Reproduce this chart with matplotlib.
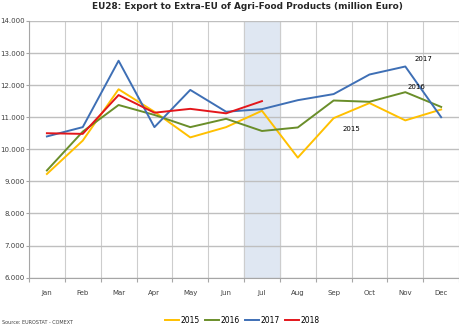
import matplotlib.pyplot as plt
import matplotlib.ticker as mticker
import numpy as np

months = ["Jan", "Feb", "Mar", "Apr", "May", "Jun", "Jul", "Aug", "Sep", "Oct", "Nov", "Dec"]
y2015 = [9.23, 10.27, 11.87, 11.17, 10.37, 10.69, 11.20, 9.74, 10.97, 11.44, 10.90, 11.24]
y2016 = [9.34, 10.55, 11.38, 11.07, 10.69, 10.95, 10.57, 10.68, 11.52, 11.48, 11.78, 11.32]
y2017 = [10.40, 10.69, 12.76, 10.69, 11.85, 11.17, 11.25, 11.53, 11.72, 12.33, 12.58, 11.00]
y2018 = [10.50, 10.48, 11.69, 11.14, 11.26, 11.12, 11.50]

series = [("2015", y2015, "#FFC000"), ("2016", y2016, "#6A8E2A"),
          ("2017", y2017, "#3E6FB5"), ("2018", y2018, "#E3161B")]

fig = plt.figure(figsize=(4.6, 3.27), dpi=100)
ax = fig.add_axes([0.063, 0.151, 0.935, 0.785])

x = np.arange(len(months))
ax.axvspan(5.5, 6.5, color="#DFE7F2", zorder=0)
for name, vals, col in series:
    ax.plot(x[:len(vals)], vals, color=col, lw=1.4, label=name, zorder=3)

ax.set_xlim(-0.5, 11.5)
ax.set_ylim(6, 14)
ax.set_xticks(x)
ax.set_xticklabels(months, fontsize=5, color="#404040")
ax.set_xticks(np.arange(-0.5, 12, 1), minor=True)
ax.yaxis.set_major_formatter(mticker.FuncFormatter(lambda v, p: f"{v:.3f}"))
ax.tick_params(axis="y", labelsize=5, labelcolor="#404040", length=2, pad=1, color="#A6A6A6", width=0.8)
ax.tick_params(axis="x", which="major", length=0, pad=9)
ax.tick_params(axis="x", which="minor", length=3, color="#A6A6A6", width=0.8)
ax.grid(True, axis="y", color="#BFBFBF", lw=1)
ax.grid(True, axis="x", which="minor", color="#CDCDCD", lw=0.8)
for s in ["top", "right"]:
    ax.spines[s].set_visible(False)
for s in ["left", "bottom"]:
    ax.spines[s].set_color("#A6A6A6")
    ax.spines[s].set_linewidth(0.8)

ax.text(10.5, 12.72, "2017", fontsize=5, ha="center", va="bottom")
ax.text(10.3, 11.86, "2016", fontsize=5, ha="center", va="bottom")
ax.text(8.5, 10.55, "2015", fontsize=5, ha="center", va="bottom")

fig.suptitle("EU28: Export to Extra-EU of Agri-Food Products (million Euro)",
             x=0.537, y=0.995, fontsize=6.4, fontweight="bold", color="#262626")
fig.legend(loc="lower center", bbox_to_anchor=(0.527, -0.015), ncol=4, frameon=False,
           fontsize=5.5, handlelength=1.8, handletextpad=0.2, columnspacing=0.7)
fig.text(0.004, 0.008, "Source: EUROSTAT - COMEXT", fontsize=3.5, color="#404040")

fig.savefig("out.png", dpi=100)
